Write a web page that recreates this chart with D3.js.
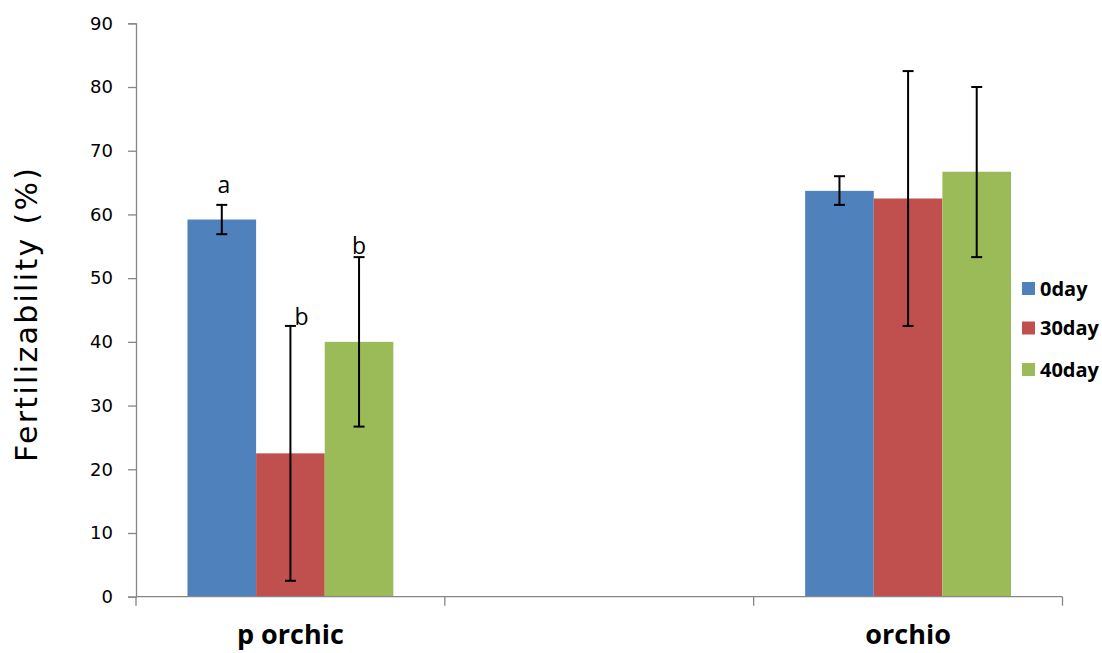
<!DOCTYPE html>
<html><head><meta charset="utf-8">
<script src="https://cdn.jsdelivr.net/npm/d3@7"></script>
<style>body{margin:0;background:#fff}</style>
</head><body>
<svg id="c" width="1102" height="653"></svg>
<script>
const categories = ["p orchic", "", "orchio"];
const seriesNames = ["0day", "30day", "40day"];
const colors = ["#4F81BD", "#C0504D", "#9BBB59"];
const values = {
  "0day":  [59.2, null, 63.7],
  "30day": [22.5, null, 62.5],
  "40day": [40.0, null, 66.7]
};
const errLow = {
  "0day":  [56.9, null, 61.5],
  "30day": [2.5, null, 42.5],
  "40day": [26.7, null, 53.3]
};
const errHigh = {
  "0day":  [61.5, null, 66.0],
  "30day": [42.5, null, 82.5],
  "40day": [53.3, null, 80.0]
};
const letters = {
  "0day":  ["a", null, null],
  "30day": ["b", null, null],
  "40day": ["b", null, null]
};
const yTicks = [0,10,20,30,40,50,60,70,80,90];

(function () {
const svg = d3.select("#c");
const mLeft = 136, mRight = 1062.5, mTop = 23.3, mBottom = 596.7;
const x = d3.scaleBand().domain(categories).range([mLeft, mRight]).paddingInner(0).paddingOuter(0);
const y = d3.scaleLinear().domain([0, 90]).range([mBottom, mTop]);
const bw = x.bandwidth() / (3 + 1.5);
const groupOff = bw * 0.75;
const letterOff = [[2, 12], [11, 1], [0, 3]];

seriesNames.forEach((s, si) => {
  categories.forEach((c, ci) => {
    const v = values[s][ci];
    if (v == null) return;
    const x0 = x(c) + groupOff + si * bw;
    svg.append("rect").attr("x", x0).attr("y", y(v)).attr("width", bw).attr("height", y(0) - y(v))
      .attr("fill", colors[si]);
  });
});
seriesNames.forEach((s, si) => {
  categories.forEach((c, ci) => {
    const v = values[s][ci];
    if (v == null) return;
    const cx = x(c) + groupOff + si * bw + bw / 2;
    const lo = y(errLow[s][ci]), hi = y(errHigh[s][ci]);
    const g = svg.append("g").attr("stroke", "#000").attr("stroke-width", 2);
    g.append("line").attr("x1", cx).attr("x2", cx).attr("y1", lo).attr("y2", hi);
    g.append("line").attr("x1", cx - 5.5).attr("x2", cx + 5.5).attr("y1", lo).attr("y2", lo);
    g.append("line").attr("x1", cx - 5.5).attr("x2", cx + 5.5).attr("y1", hi).attr("y2", hi);
    const L = letters[s][ci];
    if (L) {
      svg.append("text").attr("x", cx + letterOff[si][0]).attr("y", hi - letterOff[si][1]).attr("text-anchor", "middle")
        .attr("font-family", "Open Sans, sans-serif").attr("font-size", 23).attr("fill", "#000").text(L);
    }
  });
});

const yAxis = d3.axisLeft(y).tickValues(yTicks).tickSize(8).tickPadding(15);
const ga = svg.append("g").attr("transform", `translate(${mLeft},0)`).call(yAxis);
ga.select(".domain").attr("stroke", "#868686").attr("stroke-width", 1.3);
ga.selectAll(".tick line").attr("stroke", "#868686").attr("stroke-width", 1.3);
ga.selectAll(".tick text").attr("font-family", "DejaVu Sans, sans-serif").attr("font-size", 18).attr("fill", "#000");

const gx = svg.append("g").attr("transform", `translate(0,${mBottom})`);
gx.append("line").attr("x1", mLeft).attr("x2", mRight).attr("stroke", "#868686").attr("stroke-width", 1.3);
const bounds = categories.map(c => x(c)).concat([mRight]);
gx.selectAll("line.t").data(bounds).enter().append("line").attr("class","t")
  .attr("x1", d => d).attr("x2", d => d).attr("y1", 0).attr("y2", 9)
  .attr("stroke", "#868686").attr("stroke-width", 1.3);
gx.selectAll("text").data(categories.filter(c => c)).enter().append("text")
  .attr("x", d => x(d) + x.bandwidth() / 2).attr("y", 47.5).attr("text-anchor", "middle")
  .attr("font-family", "Open Sans, sans-serif").attr("font-weight", "bold").attr("font-size", 27)
  .attr("fill", "#000").text(d => d);

svg.append("text").attr("transform", "translate(37,315) rotate(-90)").attr("text-anchor", "middle")
  .attr("font-family", "DejaVu Sans, sans-serif").attr("font-size", 30).attr("fill", "#000")
  .attr("textLength", 294).attr("lengthAdjust", "spacing")
  .text("Fertilizability (%)");

const legY = [288.5, 328, 369.5];
seriesNames.forEach((s, i) => {
  svg.append("rect").attr("x", 1022).attr("y", legY[i] - 6.5).attr("width", 13).attr("height", 13).attr("fill", colors[i]);
  svg.append("text").attr("x", 1040).attr("y", legY[i]).attr("dy", "0.35em")
    .attr("font-family", "Open Sans, sans-serif").attr("font-weight", "bold").attr("font-size", 20)
    .attr("fill", "#000").text(s);
});
})();
</script>
</body></html>
